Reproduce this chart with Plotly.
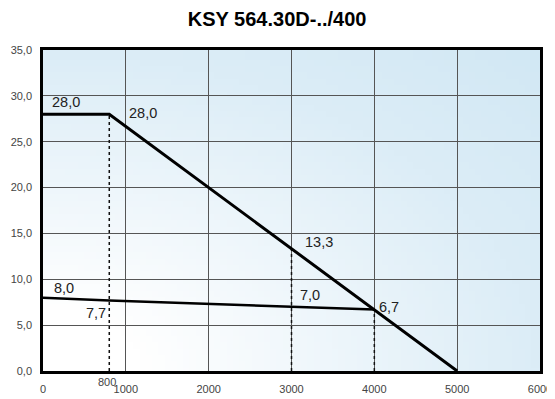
import base64
import struct
import zlib

import numpy as np
import plotly.graph_objects as go

# upper limit curve
upper_x = [0, 800, 5000]
upper_y = [28.0, 28.0, 0.0]

# lower limit curve
lower_x = [0, 800, 3000, 4000]
lower_y = [8.0, 7.7, 7.0, 6.7]

# dotted reference drops
drop_x = [800, 3000, 4000]
drop_y = [28.0, 13.3, 6.7]

x_ticks = [0, 1000, 2000, 3000, 4000, 5000, 6000]
y_ticks = [0, 5, 10, 15, 20, 25, 30, 35]

# value labels: (x, y, text, xshift, yshift, anchor)
point_labels = [
    (0, 28.0, "28,0", 7, 12, "left"),
    (800, 28.0, "28,0", 18, 1, "left"),
    (3000, 13.3, "13,3", 11, 7, "left"),
    (3000, 7.0, "7,0", 6, 12, "left"),
    (4000, 6.7, "6,7", 3, 3, "left"),
    (0, 8.0, "8,0", 9, 10, "left"),
    (800, 7.7, "7,7", -1, -13, "right"),
]


def gradient_png(w=80, h=50):
    """Small PNG: white bottom-left fading to light blue everywhere else."""
    white = np.array([255, 255, 255], dtype=float)
    edge = np.array([220, 237, 247], dtype=float)
    corner = np.array([210, 232, 244], dtype=float)
    u = np.linspace(0, 1, w)[None, :]
    v = np.linspace(1, 0, h)[:, None]
    t = np.sqrt(u ** 2 + v ** 2)[..., None]
    a = np.clip((t - 0.2) / 0.8, 0, 1)
    b = np.clip((t - 1.0) / 0.414, 0, 1)
    img = white + (edge - white) * a + (corner - edge) * b
    img = img.astype(np.uint8)
    raw = b"".join(b"\x00" + img[r].tobytes() for r in range(h))

    def chunk(tag, data):
        c = tag + data
        return struct.pack(">I", len(data)) + c + struct.pack(">I", zlib.crc32(c) & 0xFFFFFFFF)

    png = (b"\x89PNG\r\n\x1a\n"
           + chunk(b"IHDR", struct.pack(">IIBBBBB", w, h, 8, 2, 0, 0, 0))
           + chunk(b"IDAT", zlib.compress(raw, 9))
           + chunk(b"IEND", b""))
    return "data:image/png;base64," + base64.b64encode(png).decode()


fig = go.Figure()

for xv, yv in zip(drop_x, drop_y):
    fig.add_trace(go.Scatter(
        x=[xv, xv], y=[0, yv], mode="lines",
        line=dict(color="#111", width=1.5, dash="dot"),
        hoverinfo="skip",
    ))

fig.add_trace(go.Scatter(x=upper_x, y=upper_y, mode="lines",
                         line=dict(color="#000", width=3)))
fig.add_trace(go.Scatter(x=lower_x, y=lower_y, mode="lines",
                         line=dict(color="#000", width=2.5)))

for xv, yv, txt, dx, dy, anchor in point_labels:
    fig.add_annotation(x=xv, y=yv, text=txt, showarrow=False,
                       xanchor=anchor, xshift=dx, yshift=dy,
                       font=dict(family="Arial", size=14.5, color="#222"))

# the extra 800 tick sits a little higher than the regular ones
fig.add_annotation(x=800, y=0, yref="y", text="800", showarrow=False,
                   yshift=-11, xshift=-2,
                   font=dict(family="Arial", size=11, color="#444"))

fig.add_layout_image(dict(
    source=gradient_png(), xref="paper", yref="paper",
    x=0, y=1, sizex=1, sizey=1, sizing="stretch",
    xanchor="left", yanchor="top", layer="below",
))

# page body keeps its 8px default margin, so the figure is 8px smaller
fig.update_layout(
    width=547, height=391,
    title=dict(text="<b>KSY 564.30D-../400</b>", x=0.492, xanchor="center",
               y=0.973, yanchor="middle",
               font=dict(family="Arial", size=20, color="#000")),
    showlegend=False,
    paper_bgcolor="white",
    plot_bgcolor="rgba(0,0,0,0)",
    separators=",.",
    margin=dict(l=35, r=15, t=42, b=28),
    font=dict(family="Arial", size=11, color="#444"),
)
fig.update_xaxes(
    range=[0, 6000], tickvals=x_ticks, tickformat="d", automargin=False,
    showgrid=True, gridcolor="#555", gridwidth=1,
    showline=True, linecolor="#000", linewidth=2.5, mirror=True,
    ticks="outside", ticklen=6, tickcolor="rgba(0,0,0,0)",
    zeroline=False,
)
fig.update_yaxes(
    range=[0, 35], tickvals=y_ticks, tickformat=".1f", automargin=False,
    showgrid=True, gridcolor="#555", gridwidth=1,
    showline=True, linecolor="#000", linewidth=2.5, mirror=True,
    ticks="outside", ticklen=6, tickcolor="rgba(0,0,0,0)",
    zeroline=False,
)

fig.write_html("out.html")
